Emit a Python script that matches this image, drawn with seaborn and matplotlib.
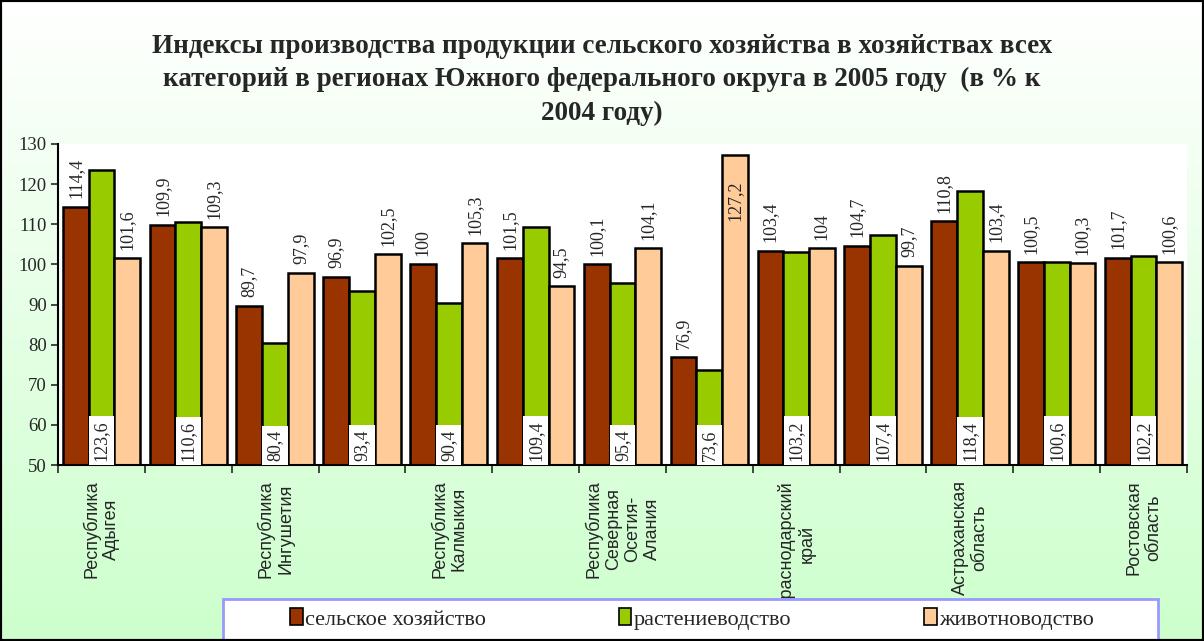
import matplotlib.pyplot as plt
import matplotlib.patches as mpatches
from matplotlib.colors import LinearSegmentedColormap
import numpy as np
import pandas as pd
import seaborn as sns

# data
regions = ['Республика Адыгея', 'Республика Дагестан', 'Республика Ингушетия',
           'Кабардино-Балкарская Республика', 'Республика Калмыкия',
           'Карачаево-Черкесская Республика', 'Республика Северная Осетия-Алания',
           'Чеченская Республика', 'Краснодарский край', 'Ставропольский край',
           'Астраханская область', 'Волгоградская область', 'Ростовская область']
tick_labels = ['Республика\nАдыгея', '', 'Республика\nИнгушетия', '',
               'Республика\nКалмыкия', '', 'Республика\nСеверная\nОсетия-\nАлания', '',
               'Краснодарский\nкрай', '', 'Астраханская\nобласть', '', 'Ростовская\nобласть']
agriculture = [114.4, 109.9, 89.7, 96.9, 100.0, 101.5, 100.1, 76.9, 103.4, 104.7, 110.8, 100.5, 101.7]
crops = [123.6, 110.6, 80.4, 93.4, 90.4, 109.4, 95.4, 73.6, 103.2, 107.4, 118.4, 100.6, 102.2]
livestock = [101.6, 109.3, 97.9, 102.5, 105.3, 94.5, 104.1, 127.2, 104.0, 99.7, 103.4, 100.3, 100.6]
series = ['сельское хозяйство', 'растениеводство', 'животноводство']
colors = ['#993300', '#99CC00', '#FFCC99']

df = pd.DataFrame({
    'region': regions * 3,
    'series': np.repeat(series, len(regions)),
    'value': agriculture + crops + livestock,
})

sns.set_style('white')
plt.rcParams['font.family'] = ['Liberation Serif', 'DejaVu Serif']

fig = plt.figure(figsize=(12.04, 6.41), dpi=100)

# gradient background
bg = fig.add_axes([0, 0, 1, 1], zorder=-10)
cmap = LinearSegmentedColormap.from_list('bg', ['#ccffcc', '#ffffff'])
bg.imshow(np.linspace(0, 1, 256).reshape(-1, 1), aspect='auto', cmap=cmap,
          origin='lower', extent=[0, 1, 0, 1])
bg.axis('off')

ax = fig.add_axes([58/1204, 176/641, 1129/1204, 321/641])
ax.set_facecolor('white')

sns.barplot(data=df, x='region', y='value', hue='series', hue_order=series,
            palette=colors, saturation=1, width=0.89, edgecolor='black',
            linewidth=1.8, legend=False, ax=ax)

ax.set_ylim(50, 130)
ax.set_xlim(-0.5, len(regions) - 0.5)
ax.set_yticks(range(50, 131, 10))
ax.tick_params(axis='y', labelsize=13.5, length=5, width=1.2, direction='out', left=True, pad=3)
ax.set_xticks(range(len(regions)))
ax.set_xticklabels(tick_labels, rotation=90, va='top', ha='center',
                   family='Liberation Sans', fontsize=13)
ax.tick_params(axis='x', which='major', length=0, pad=11)
ax.set_xticks(np.arange(-0.5, len(regions), 1), minor=True)
ax.tick_params(axis='x', which='minor', length=6, width=1.2, direction='out', bottom=True)
ax.set_xlabel('')
ax.set_ylabel('')
for s in ['top', 'right']:
    ax.spines[s].set_visible(False)
for s in ['left', 'bottom']:
    ax.spines[s].set_color('black')
    ax.spines[s].set_linewidth(1.5)

# value labels
ymax = ax.get_ylim()[1]
for i, cont in enumerate(ax.containers):
    for bar in cont:
        v = bar.get_height()
        txt = f'{v:g}'.replace('.', ',')
        cx = bar.get_x() + bar.get_width() / 2
        if i == 1:
            ax.text(cx, 51, txt, rotation=90, ha='center', va='bottom', fontsize=13,
                    bbox=dict(facecolor='white', edgecolor='none', pad=3))
        elif v > ymax - 8:
            # no room above the bar: label goes inside
            ax.annotate(txt, (cx, v), xytext=(0, -18), textcoords='offset points',
                        rotation=90, ha='center', va='top', fontsize=13)
        else:
            ax.annotate(txt, (cx, v), xytext=(0, 6), textcoords='offset points',
                        rotation=90, ha='center', va='bottom', fontsize=13)

fig.text(0.5, 1 - 80/641, 'Индексы производства продукции сельского хозяйства в хозяйствах всех\n'
         'категорий в регионах Южного федерального округа в 2005 году  (в % к\n2004 году)',
         ha='center', va='center', fontsize=19.5, fontweight='bold', linespacing=1.42)

# legend box
fig.patches.append(mpatches.Rectangle((223/1204, 0), (1158-223)/1204, 42/641,
                                      transform=fig.transFigure, facecolor='white',
                                      edgecolor='#9999ff', linewidth=2, zorder=5))
handles = [mpatches.Patch(facecolor=c, edgecolor='black', linewidth=1.2) for c in colors]
leg = fig.legend(handles, series, loc='center', bbox_to_anchor=(692/1204, 22/641),
                 ncol=3, frameon=False, fontsize=16, handlelength=0.55, handleheight=0.8,
                 handletextpad=0.1, columnspacing=6.0)
leg.set_zorder(6)

# outer frame
fig.patches.append(mpatches.Rectangle((0, 0), 1, 1, transform=fig.transFigure,
                                      fill=False, edgecolor='black', linewidth=3, zorder=10))

fig.savefig('out.png', dpi=100)
